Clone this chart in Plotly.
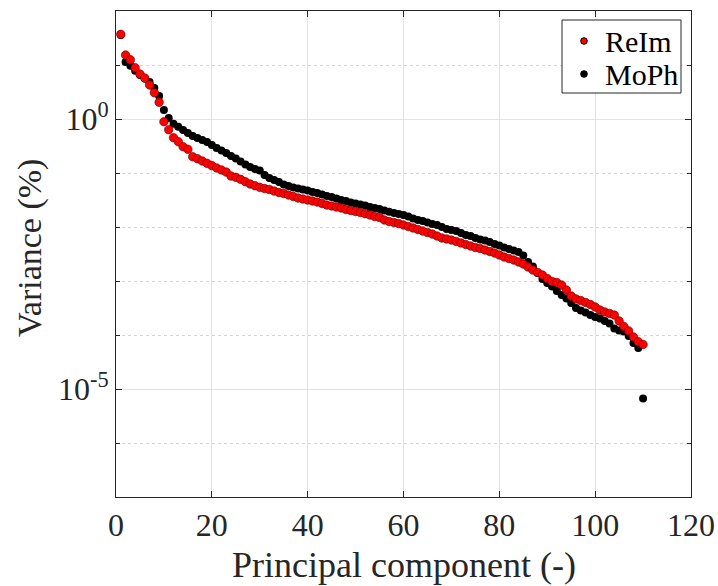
import plotly.graph_objects as go

component = list(range(1, 111))

reim_variance = [
    37.0, 15.3, 12.5, 8.91, 6.81, 5.74, 4.26, 3.07, 2.04, 0.891,
    0.634, 0.451, 0.380, 0.307, 0.275, 0.200, 0.184, 0.167, 0.151, 0.137,
    0.124, 0.114, 0.104, 0.0880, 0.0832, 0.0764, 0.0690, 0.0625, 0.0582, 0.0543,
    0.0516, 0.0495, 0.0464, 0.0435, 0.0417, 0.0391, 0.0367, 0.0344, 0.0330, 0.0316,
    0.0303, 0.0290, 0.0272, 0.0255, 0.0245, 0.0234, 0.0225, 0.0211, 0.0202, 0.0194,
    0.0186, 0.0176, 0.0167, 0.0156, 0.0150, 0.0135, 0.0126, 0.0121, 0.0116, 0.0109,
    0.0102, 0.00958, 0.00899, 0.00843, 0.00791, 0.00742, 0.00681, 0.00625, 0.00600, 0.00574,
    0.00539, 0.00506, 0.00474, 0.00445, 0.00417, 0.00400, 0.00375, 0.00352, 0.00330, 0.00303,
    0.00278, 0.00261, 0.00245, 0.00225, 0.00206, 0.00182, 0.00160, 0.00144, 0.00129, 0.00111,
    9.79e-4, 9.38e-4, 8.43e-4, 6.81e-4, 5.27e-4, 4.64e-4, 4.35e-4, 4.00e-4, 3.67e-4, 3.30e-4,
    2.90e-4, 2.67e-4, 2.50e-4, 2.34e-4, 1.82e-4, 1.44e-4, 1.19e-4, 9.18e-5, 7.52e-5, 6.67e-5,
]

moph_variance = [
    36.0, 11.4, 9.70, 7.84, 6.53, 5.62, 4.84, 3.75, 2.67, 1.47,
    1.04, 0.818, 0.720, 0.626, 0.551, 0.484, 0.445, 0.409, 0.375, 0.330,
    0.290, 0.261, 0.234, 0.206, 0.186, 0.163, 0.144, 0.129, 0.119, 0.111,
    0.0918, 0.0808, 0.0742, 0.0681, 0.0612, 0.0574, 0.0539, 0.0516, 0.0495, 0.0474,
    0.0445, 0.0426, 0.0400, 0.0375, 0.0359, 0.0337, 0.0316, 0.0303, 0.0284, 0.0272,
    0.0261, 0.0250, 0.0234, 0.0225, 0.0215, 0.0202, 0.0192, 0.0182, 0.0174, 0.0167,
    0.0156, 0.0144, 0.0135, 0.0129, 0.0121, 0.0114, 0.0109, 0.0100, 0.00918, 0.00880,
    0.00843, 0.00774, 0.00711, 0.00681, 0.00625, 0.00587, 0.00562, 0.00527, 0.00484, 0.00454,
    0.00417, 0.00392, 0.00367, 0.00344, 0.00297, 0.00225, 0.00186, 0.00141, 0.00109, 9.18e-4,
    7.91e-4, 6.53e-4, 5.51e-4, 4.74e-4, 3.92e-4, 3.16e-4, 2.84e-4, 2.61e-4, 2.34e-4, 2.15e-4,
    2.02e-4, 1.82e-4, 1.63e-4, 1.32e-4, 1.21e-4, 1.16e-4, 9.57e-5, 7.11e-5, 5.74e-5, 6.67e-6,
]

series_names = ["ReIm", "MoPh"]
x_ticks = [0, 20, 40, 60, 80, 100, 120]
y_major_ticks = [1, 1e-5]
y_major_labels = ["10<sup>0</sup>", "10<sup>-5</sup>"]
y_minor_ticks = [1e2, 1e1, 1e-1, 1e-2, 1e-3, 1e-4, 1e-6, 1e-7]

FONT = "Liberation Serif"
AX = "#262626"
GRID = "#e3e3e3"
RED = "#ff0000"

W, H = 718, 586
ML, MR, MT, MB = 116, 27, 11, 89
PW, PH = W - ML - MR, H - MT - MB


def px_x(p):
    return (p - ML) / PW


def px_y(p):
    return 1 - (p - MT) / PH


fig = go.Figure()
fig.add_trace(go.Scatter(
    x=component, y=moph_variance, mode="markers", name=series_names[1],
    marker=dict(color="black", size=8, line=dict(width=0)),
    showlegend=False,
))
fig.add_trace(go.Scatter(
    x=component, y=reim_variance, mode="markers", name=series_names[0],
    marker=dict(color=RED, size=8.5, line=dict(width=0.6, color="#5a0000")),
    showlegend=False,
))

# legend box (drawn in paper coordinates)
shapes = [
    dict(type="rect", xref="paper", yref="paper",
         x0=px_x(562), x1=px_x(681), y0=px_y(93), y1=px_y(20),
         fillcolor="white", line=dict(color=AX, width=1), layer="above"),
]
legend_rows = [(41, RED, "black"), (74, "black", "black")]
r = 3.3
for (cy, fill, edge) in legend_rows:
    shapes.append(dict(type="circle", xref="paper", yref="paper",
                       x0=px_x(584 - r), x1=px_x(584 + r),
                       y0=px_y(cy + r), y1=px_y(cy - r),
                       fillcolor=fill, line=dict(color=edge, width=1),
                       layer="above"))

annotations = [
    dict(text="Principal component (-)", xref="paper", yref="paper",
         x=0.5, y=px_y(565), xanchor="center", yanchor="middle",
         showarrow=False, font=dict(family=FONT, size=36, color=AX)),
    dict(text="Variance (%)", xref="paper", yref="paper",
         x=px_x(30), y=px_y(248), xanchor="center", yanchor="middle",
         textangle=-90, showarrow=False,
         font=dict(family=FONT, size=34, color=AX)),
]
for name, (cy, _, _) in zip(series_names, legend_rows):
    annotations.append(dict(text=name, xref="paper", yref="paper",
                            x=px_x(603), y=px_y(cy), xanchor="left",
                            yanchor="middle", showarrow=False,
                            font=dict(family=FONT, size=30, color="black")))

fig.update_layout(
    width=W, height=H,
    margin=dict(l=ML, r=MR, t=MT, b=MB, autoexpand=False),
    paper_bgcolor="white", plot_bgcolor="white",
    font=dict(family=FONT, color=AX, size=32),
    showlegend=False,
    xaxis=dict(
        range=[0, 120], tickmode="array", tickvals=x_ticks,
        ticks="inside", ticklen=6, tickcolor=AX, tickwidth=1,
        showline=True, linecolor=AX, linewidth=1, mirror="ticks",
        showgrid=True, gridcolor=GRID, gridwidth=1, zeroline=False,
        tickfont=dict(family=FONT, size=32, color=AX),
        automargin=False,
    ),
    yaxis=dict(
        type="log", range=[-7, 2], tickmode="array",
        tickvals=y_major_ticks, ticktext=y_major_labels,
        ticks="inside", ticklen=6, tickcolor=AX, tickwidth=1,
        showline=True, linecolor=AX, linewidth=1, mirror="ticks",
        showgrid=True, gridcolor=GRID, gridwidth=1, zeroline=False,
        tickfont=dict(family=FONT, size=32, color=AX),
        automargin=False,
        minor=dict(
            tickmode="array", tickvals=y_minor_ticks,
            ticks="inside", ticklen=4, tickcolor=AX,
            showgrid=True, gridcolor="#d4d4d4", gridwidth=1, griddash="dot",
        ),
    ),
    shapes=shapes,
    annotations=annotations,
)

fig.write_html("out.html",
               config={"displayModeBar": False},
               post_script="document.body.style.margin='0';document.body.style.overflow='hidden';")
